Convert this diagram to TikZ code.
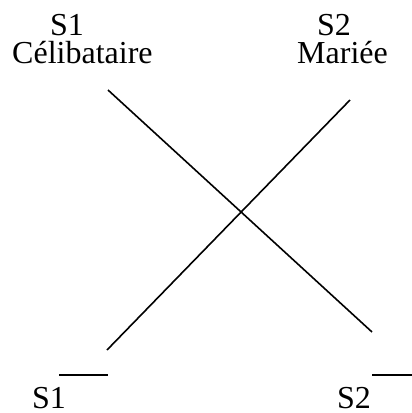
\documentclass[tikz,border=0pt]{standalone}
\usepackage{fontspec}
\setmainfont{Liberation Serif}
\begin{document}
\begin{tikzpicture}[x=1pt,y=1pt,
  lbl/.style={anchor=base west,inner sep=0pt,text height=21pt,text depth=0pt,font=\fontsize{32}{32}\selectfont},
  ln/.style={line width=1.6pt,line cap=butt}]
\useasboundingbox (0,0) rectangle (412,-413);
\node[lbl] (s1t) at (50,-35) {S1};
\node[lbl] (celib) at (12,-63) {Célibataire};
\node[lbl] (s2t) at (317,-35) {S2};
\node[lbl] (mariee) at (297,-63) {Mariée};
\node[lbl] (s1b) at (32,-408) {S1};
\node[lbl] (s2b) at (337,-408) {S2};
\coordinate (a1) at (108,-90);
\coordinate (a2) at (372,-332);
\coordinate (b1) at (107,-350);
\coordinate (b2) at (350,-100);
\coordinate (o1a) at (59,-375);
\coordinate (o1b) at (108,-375);
\coordinate (o2a) at (372,-375);
\coordinate (o2b) at (412,-375);
\draw[ln] (a1) -- (a2);
\draw[ln] (b1) -- (b2);
\draw[ln] (o1a) -- (o1b);
\draw[ln] (o2a) -- (o2b);
\end{tikzpicture}
\end{document}
